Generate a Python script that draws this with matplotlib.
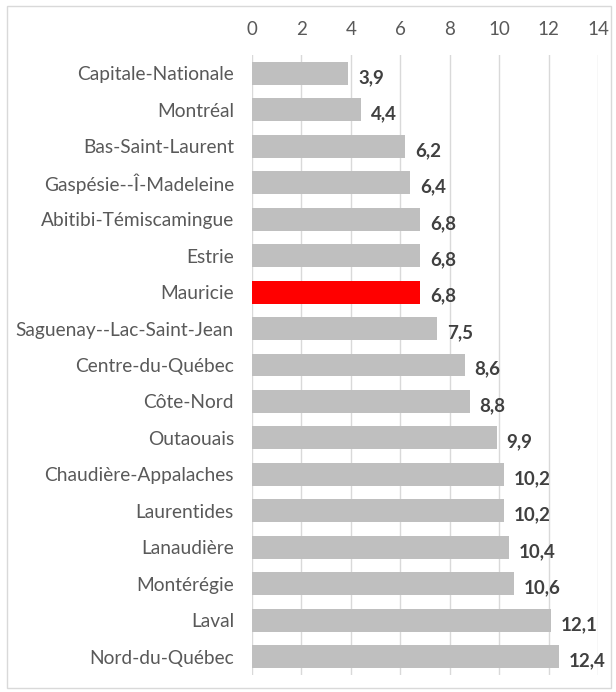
import matplotlib

matplotlib.use("Agg")
import matplotlib.pyplot as plt  # noqa: E402
from matplotlib.patches import Rectangle  # noqa: E402

regions = [
    "Capitale-Nationale", "Montréal", "Bas-Saint-Laurent", "Gaspésie--Î-Madeleine",
    "Abitibi-Témiscamingue", "Estrie", "Mauricie", "Saguenay--Lac-Saint-Jean",
    "Centre-du-Québec", "Côte-Nord", "Outaouais", "Chaudière-Appalaches",
    "Laurentides", "Lanaudière", "Montérégie", "Laval", "Nord-du-Québec",
]
values = [3.9, 4.4, 6.2, 6.4, 6.8, 6.8, 6.8, 7.5, 8.6, 8.8, 9.9, 10.2, 10.2,
          10.4, 10.6, 12.1, 12.4]
highlight = "Mauricie"
xticks = [0, 2, 4, 6, 8, 10, 12, 14]

plt.rcParams["font.family"] = ["Lato", "DejaVu Sans"]

fig = plt.figure(figsize=(6.16, 6.92), dpi=100)
ax = fig.add_axes([0.409, 0.0246, 0.562, 0.8959])

colors = ["#FF0000" if r == highlight else "#BFBFBF" for r in regions]
ypos = list(range(len(regions)))
ax.barh(ypos, values, height=0.63, color=colors, zorder=2)

for y, v in zip(ypos, values):
    ax.annotate(f"{v:.1f}".replace(".", ","), (v, y), xytext=(7, -3),
                textcoords="offset points", va="center", ha="left",
                fontsize=13.5, fontweight="bold", color="#404040")

ax.set_xlim(0, 14)
ax.set_ylim(len(regions) - 0.5, -0.5)
ax.set_xticks(xticks)
ax.set_yticks(ypos)
ax.set_yticklabels(regions)
ax.xaxis.tick_top()
ax.tick_params(axis="x", length=0, pad=12, labelsize=13.5, colors="#595959")
ax.tick_params(axis="y", length=0, pad=13, labelsize=13.8, colors="#595959")
ax.grid(axis="x", color="#D9D9D9", linewidth=1, zorder=0)
for s in ax.spines.values():
    s.set_visible(False)

fig.patches.append(Rectangle((0.012, 0.006), 0.98, 0.986, transform=fig.transFigure,
                             fill=False, edgecolor="#D9D9D9", linewidth=1))

fig.savefig("out.png", dpi=100)
